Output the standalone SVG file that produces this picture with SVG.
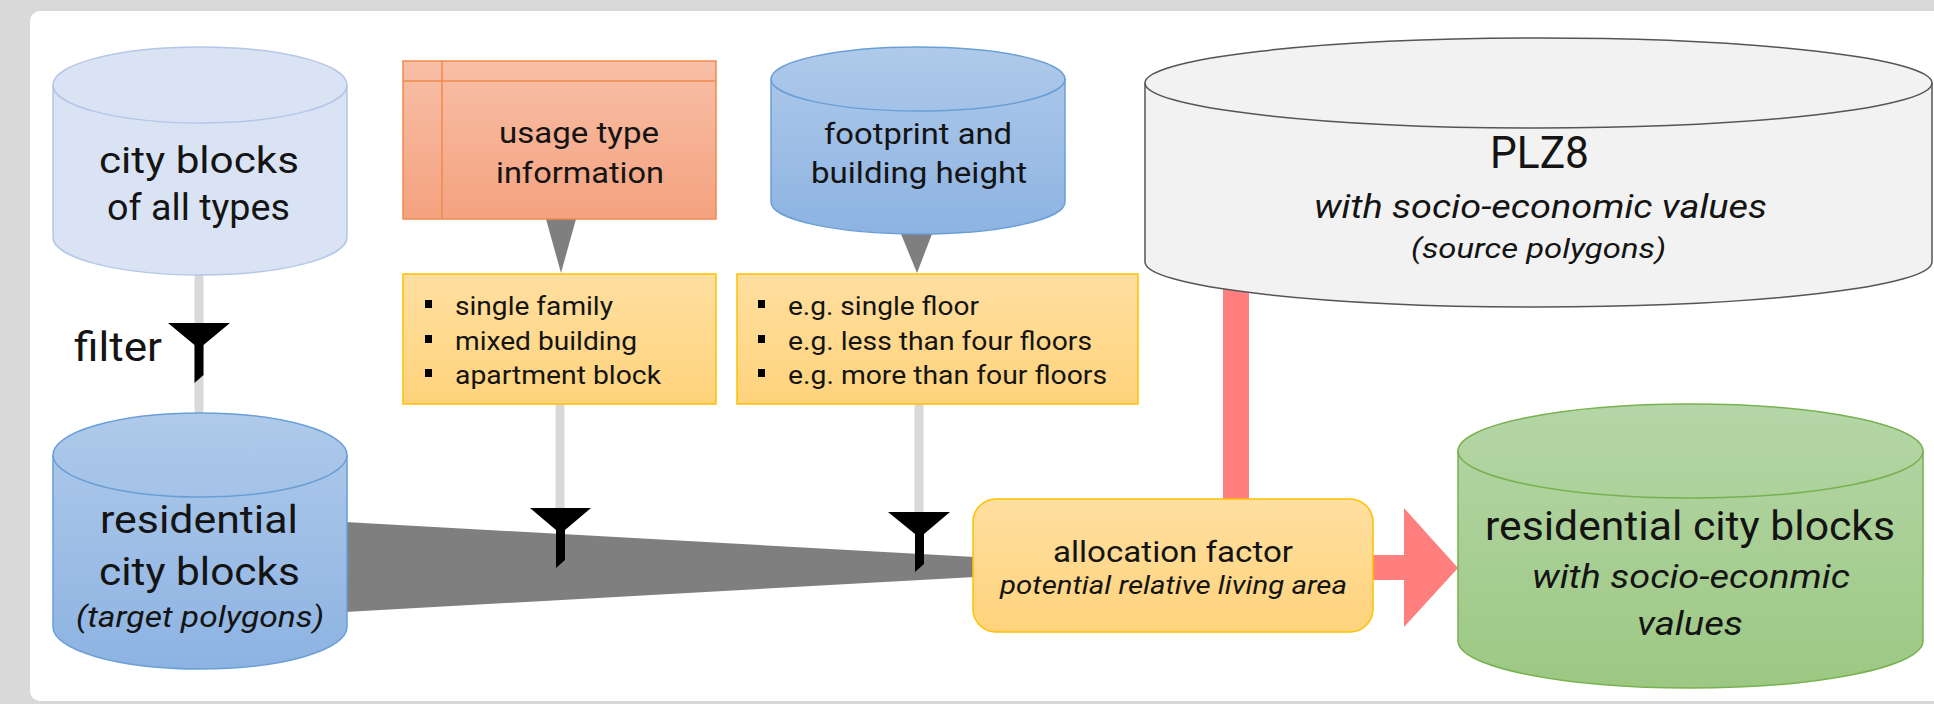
<svg xmlns="http://www.w3.org/2000/svg" width="1934" height="704" viewBox="0 0 1934 704">
<style>
text{font-family:Roboto,"Liberation Sans",sans-serif;fill:#141414}
.c{text-anchor:middle}
.i{font-style:italic}
.gline{stroke:#d9d9d9;stroke-width:9;fill:none}
.funnel{fill:#000}
.tri{fill:#7f7f7f}
.bul{fill:#000}
.ybox{fill:url(#gY);stroke:#ffc000;stroke-width:1.5}
</style>
<defs>
<linearGradient id="gLB" x1="0" y1="0" x2="0" y2="1"><stop offset="0" stop-color="#dae3f3"/><stop offset="1" stop-color="#dae3f3"/></linearGradient>
<linearGradient id="gB" x1="0" y1="0" x2="0" y2="1"><stop offset="0" stop-color="#afcaea"/><stop offset="1" stop-color="#8db3e2"/></linearGradient>
<linearGradient id="gG" x1="0" y1="0" x2="0" y2="1"><stop offset="0" stop-color="#b5d6a7"/><stop offset="1" stop-color="#9cc883"/></linearGradient>
<linearGradient id="gO" x1="0" y1="0" x2="0" y2="1"><stop offset="0" stop-color="#f8bfa7"/><stop offset="1" stop-color="#f4a27f"/></linearGradient>
<linearGradient id="gY" x1="0" y1="0" x2="0" y2="1"><stop offset="0" stop-color="#ffdfa0"/><stop offset="1" stop-color="#ffd37c"/></linearGradient>
</defs>
<rect x="0" y="0" width="1934" height="704" fill="#d9d9d9"/>
<rect x="30" y="11" width="1930" height="690" rx="10" fill="#ffffff"/>

<g id="connectors">
<line class="gline" x1="199" y1="270" x2="199" y2="420"/>
<line class="gline" x1="560" y1="400" x2="560" y2="512"/>
<line class="gline" x1="919" y1="400" x2="919" y2="516"/>
<polygon points="345,522 975,557 975,577 345,612" fill="#7f7f7f"/>
<rect x="1223" y="270" width="26" height="230" fill="#ff7f7f"/>
<polygon points="1372,555 1404,555 1404,508 1458,568 1404,627 1404,580 1372,580" fill="#ff7f7f"/>
<polygon class="tri" points="546,219 576,219 561,273"/>
<polygon class="tri" points="901,234 932,234 917,273"/>
<polygon class="funnel" points="168,323 230,323 203.5,345 203.5,375 194.5,383 194.5,345"/>
<polygon class="funnel" points="530,508 591,508 565,530 565,560 556,568 556,530"/>
<polygon class="funnel" points="888,512 950,512 924,534 924,564 915,572 915,534"/>
</g>

<g id="city-blocks-all">
<path d="M53,85 A147,38 0 0 1 347,85 L347,237 A147,38 0 0 1 53,237 Z" fill="url(#gLB)" stroke="#b4c7e7" stroke-width="1.5"/>
<path d="M53,85 A147,38 0 0 0 347,85" fill="none" stroke="#b4c7e7" stroke-width="1.5"/>
<text class="c" x="199" y="173" font-size="37" textLength="200" lengthAdjust="spacingAndGlyphs">city blocks</text>
<text class="c" x="198.5" y="220" font-size="37" textLength="183" lengthAdjust="spacingAndGlyphs">of all types</text>
</g>

<g id="filter-label">
<text x="74" y="361" font-size="40" textLength="88" lengthAdjust="spacingAndGlyphs">filter</text>
</g>

<g id="residential-blocks">
<path d="M53,455 A147,42 0 0 1 347,455 L347,627 A147,42 0 0 1 53,627 Z" fill="url(#gB)" stroke="#6a9fd6" stroke-width="1.5"/>
<path d="M53,455 A147,42 0 0 0 347,455" fill="none" stroke="#6a9fd6" stroke-width="1.5"/>
<text class="c" x="199" y="533" font-size="38" textLength="198" lengthAdjust="spacingAndGlyphs">residential</text>
<text class="c" x="199.5" y="585" font-size="38" textLength="201" lengthAdjust="spacingAndGlyphs">city blocks</text>
<text class="c i" x="200" y="627" font-size="30" textLength="248" lengthAdjust="spacingAndGlyphs">(target polygons)</text>
</g>

<g id="usage-type">
<rect x="403" y="61" width="313" height="158" fill="url(#gO)" stroke="#ef8a4e" stroke-width="1.5"/>
<line x1="403" y1="81" x2="716" y2="81" stroke="#ef8a4e" stroke-width="1.5"/>
<line x1="442" y1="61" x2="442" y2="219" stroke="#ef8a4e" stroke-width="1.5"/>
<text class="c" x="579" y="143" font-size="30" textLength="160" lengthAdjust="spacingAndGlyphs">usage type</text>
<text class="c" x="580" y="183" font-size="30" textLength="168" lengthAdjust="spacingAndGlyphs">information</text>
</g>

<g id="usage-list">
<rect class="ybox" x="403" y="274" width="313" height="130"/>
<rect class="bul" x="425" y="300" width="7" height="8"/>
<rect class="bul" x="425" y="335" width="7" height="8"/>
<rect class="bul" x="425" y="369" width="7" height="8"/>
<text x="455" y="315" font-size="25" textLength="158" lengthAdjust="spacingAndGlyphs">single family</text>
<text x="455" y="350" font-size="25" textLength="182" lengthAdjust="spacingAndGlyphs">mixed building</text>
<text x="455" y="384" font-size="25" textLength="206" lengthAdjust="spacingAndGlyphs">apartment block</text>
</g>

<g id="footprint">
<path d="M771,79 A147,32 0 0 1 1065,79 L1065,202 A147,32 0 0 1 771,202 Z" fill="url(#gB)" stroke="#6a9fd6" stroke-width="1.5"/>
<path d="M771,79 A147,32 0 0 0 1065,79" fill="none" stroke="#6a9fd6" stroke-width="1.5"/>
<text class="c" x="918" y="144" font-size="30" textLength="188" lengthAdjust="spacingAndGlyphs">footprint and</text>
<text class="c" x="919" y="183" font-size="30" textLength="216" lengthAdjust="spacingAndGlyphs">building height</text>
</g>

<g id="floor-list">
<rect class="ybox" x="737" y="274" width="401" height="130"/>
<rect class="bul" x="758" y="300" width="7" height="8"/>
<rect class="bul" x="758" y="335" width="7" height="8"/>
<rect class="bul" x="758" y="369" width="7" height="8"/>
<text x="788" y="315" font-size="25" textLength="191" lengthAdjust="spacingAndGlyphs">e.g. single floor</text>
<text x="788" y="350" font-size="25" textLength="304" lengthAdjust="spacingAndGlyphs">e.g. less than four floors</text>
<text x="788" y="384" font-size="25" textLength="319" lengthAdjust="spacingAndGlyphs">e.g. more than four floors</text>
</g>

<g id="plz8">
<path d="M1145,83 A393.5,45 0 0 1 1932,83 L1932,262 A393.5,45 0 0 1 1145,262 Z" fill="#f2f2f2" stroke="#555555" stroke-width="1.5"/>
<path d="M1145,83 A393.5,45 0 0 0 1932,83" fill="none" stroke="#555555" stroke-width="1.5"/>
<text class="c" x="1539.5" y="168" font-size="45" textLength="99" lengthAdjust="spacingAndGlyphs">PLZ8</text>
<text class="c i" x="1540.5" y="218" font-size="33" textLength="453" lengthAdjust="spacingAndGlyphs">with socio-economic values</text>
<text class="c i" x="1538.5" y="258" font-size="28" textLength="255" lengthAdjust="spacingAndGlyphs">(source polygons)</text>
</g>

<g id="allocation">
<rect x="973" y="499" width="400" height="133" rx="23" fill="url(#gY)" stroke="#ffc000" stroke-width="1.5"/>
<text class="c" x="1173" y="562" font-size="30" textLength="240" lengthAdjust="spacingAndGlyphs">allocation factor</text>
<text class="c i" x="1173.5" y="594" font-size="25" textLength="347" lengthAdjust="spacingAndGlyphs">potential relative living area</text>
</g>

<g id="result">
<path d="M1458,451 A232.5,47 0 0 1 1923,451 L1923,641 A232.5,47 0 0 1 1458,641 Z" fill="url(#gG)" stroke="#78b150" stroke-width="1.5"/>
<path d="M1458,451 A232.5,47 0 0 0 1923,451" fill="none" stroke="#78b150" stroke-width="1.5"/>
<text class="c" x="1690" y="540" font-size="40" textLength="410" lengthAdjust="spacingAndGlyphs">residential city blocks</text>
<text class="c i" x="1691" y="588" font-size="34" textLength="318" lengthAdjust="spacingAndGlyphs">with socio-econmic</text>
<text class="c i" x="1690" y="635" font-size="34" textLength="106" lengthAdjust="spacingAndGlyphs">values</text>
</g>
</svg>
